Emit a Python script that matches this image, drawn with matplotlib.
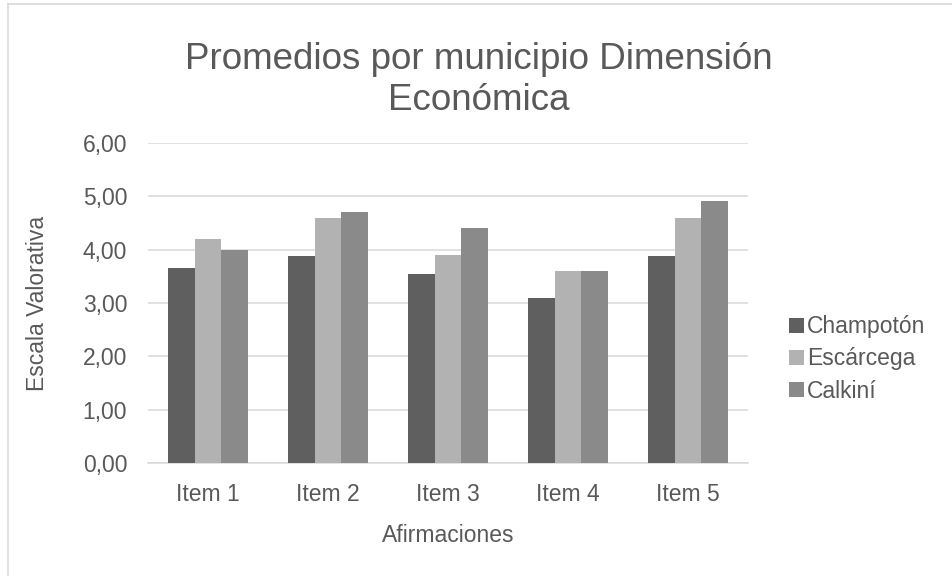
import numpy as np
import matplotlib.pyplot as plt
from matplotlib.ticker import FuncFormatter

plt.rcParams['font.family'] = ['Liberation Sans', 'DejaVu Sans']

# Datos
items = ["Item 1", "Item 2", "Item 3", "Item 4", "Item 5"]
champoton = [3.66, 3.88, 3.55, 3.10, 3.88]
escarcega = [4.20, 4.60, 3.90, 3.60, 4.60]
calkini = [4.00, 4.70, 4.40, 3.60, 4.90]
municipios = ["Champotón", "Escárcega", "Calkiní"]
colores = ["#5f5f5f", "#b2b2b2", "#8a8a8a"]

gris_txt = "#595959"
gris_lin = "#d9d9d9"

fig = plt.figure(figsize=(9.52, 5.76), dpi=100)
ax = fig.add_axes([148/952, 1-463.3/576, 600/952, (463.3-142.7)/576])

x = np.arange(len(items))
w = 0.222
for i, (serie, nombre, col) in enumerate(zip([champoton, escarcega, calkini], municipios, colores)):
    ax.bar(x + (i - 1) * w, serie, width=w, color=col, label=nombre, zorder=3)

ax.set_xlim(-0.5, len(items) - 0.5)
ax.set_ylim(0, 6)
ax.set_yticks(np.arange(0, 7, 1))
ax.yaxis.set_major_formatter(FuncFormatter(lambda v, p: f"{v:.2f}".replace(".", ",")))
ax.set_xticks(x)
ax.set_xticklabels(items)

ax.grid(axis='y', color=gris_lin, linewidth=1.1, zorder=0)
ax.set_axisbelow(True)
for s in ["top", "right", "left"]:
    ax.spines[s].set_visible(False)
ax.spines["bottom"].set_color(gris_lin)
ax.spines["bottom"].set_linewidth(1.1)
ax.tick_params(axis='y', length=0, pad=15, labelsize=16.5, labelcolor=gris_txt)
ax.tick_params(axis='x', length=0, pad=14, labelsize=16.5, labelcolor=gris_txt)

ax.set_xlabel("Afirmaciones", fontsize=16.5, color=gris_txt, labelpad=13)
ax.set_ylabel("Escala Valorativa", fontsize=16.5, color=gris_txt, labelpad=24)

fig.text(0.503, 1 - 80/576, "Promedios por municipio Dimensión\nEconómica",
         ha='center', va='center', fontsize=26.5, color=gris_txt, linespacing=1.25)

ax.legend(loc='center left', bbox_to_anchor=(789/952, 1 - 359/576), bbox_transform=fig.transFigure,
          frameon=False, fontsize=16.5, labelcolor=gris_txt, handlelength=0.65, handleheight=0.65,
          handletextpad=0.15, labelspacing=0.4, borderpad=0, borderaxespad=0)

# borde del área del gráfico
fig.add_artist(plt.Line2D([8/952, 8/952], [0, 1 - 4/576], transform=fig.transFigure, color=gris_lin, lw=1.2))
fig.add_artist(plt.Line2D([8/952, 1], [1 - 4/576, 1 - 4/576], transform=fig.transFigure, color=gris_lin, lw=1.2))

fig.savefig("out.png", dpi=100)
